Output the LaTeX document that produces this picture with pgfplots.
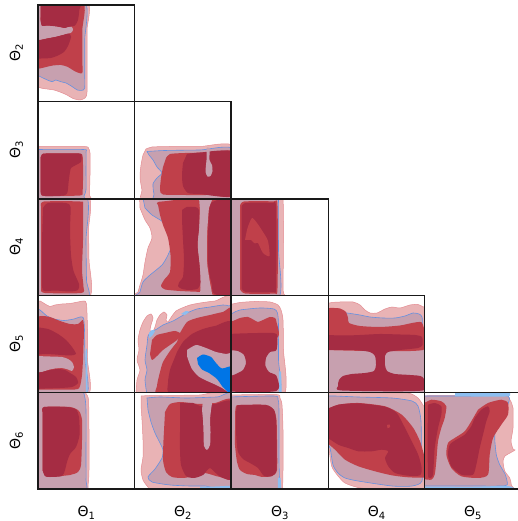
\documentclass[border=0pt]{standalone}
\usepackage{pgfplots}
\pgfplotsset{compat=1.18}
\usepackage{fontspec}
\setmainfont{DejaVu Sans}
\definecolor{pinkF}{RGB}{233,179,181}
\definecolor{pinkE}{RGB}{228,140,146}
\definecolor{mauve}{RGB}{199,160,175}
\definecolor{medR}{RGB}{192,64,74}
\definecolor{darkR}{RGB}{165,44,67}
\definecolor{blueF}{RGB}{0,117,230}
\definecolor{lightB}{RGB}{140,190,240}
\definecolor{blueL}{RGB}{100,145,225}
\pgfplotsset{
 panel/.style={scale only axis, anchor=south west, y dir=reverse, xtick=\empty, ytick=\empty,
   axis on top, axis line style={line width=1.25pt,black!90}},
 cP/.style={fill=pinkF, draw=pinkE, line width=0.5pt, smooth, tension=0.4, mark=none},
 cM/.style={fill=mauve, draw=blueL, line width=0.6pt, smooth, tension=0.4, mark=none},
 cR/.style={fill=medR, draw=none, smooth, tension=0.4, mark=none},
 cD/.style={fill=darkR, draw=none, smooth, tension=0.4, mark=none},
 cN/.style={fill=mauve, draw=none, smooth, tension=0.4, mark=none},
 cB/.style={fill=blueF, draw=none, smooth, tension=0.4, mark=none},
 cLB/.style={fill=lightB, draw=none, smooth, tension=0.4, mark=none},
}
\newcommand{\lab}[1]{\fontsize{14}{16}\selectfont Θ\raisebox{-0.2em}{\fontsize{10}{10}\selectfont #1}}
\begin{document}
\begin{tikzpicture}
\useasboundingbox (0,0) rectangle (518pt,521pt);
% ---------- row 1 (Theta2) ----------
\begin{axis}[panel, at={(38pt,419.5pt)}, width=96.5pt, height=96.5pt, xmin=38, xmax=134.5, ymin=5, ymax=101.5]
\addplot[cP] coordinates {(35,2) (87,2) (87,30) (87,60) (87,92) (85,98) (80,100) (73,98.5) (67,95) (60,92) (54,90) (47,89) (42,88.3) (35,86)} --cycle;
\addplot[cM] coordinates {(35,2) (84.7,2) (84.7,40) (84.7,70) (84.7,88) (82,90.3) (77.3,90) (72,86.5) (66,83) (60.7,81.7) (55.7,80) (52.3,81.7) (47.3,80) (42,77.5) (35,74)} --cycle;
\addplot[cR] coordinates {(35,2) (82.5,2) (82.3,30) (82.3,60) (82.3,73) (75.7,71.7) (67.3,66.7) (60.7,65) (53,65.5) (47.3,66.7) (40.7,68.3) (35,69)} --cycle;
\addplot[cN] coordinates {(35,2) (40.5,2) (40.5,20) (42,26) (47,25.5) (57,26.5) (65,28) (68,27) (71,26.5) (73,29) (72,32) (69,33.5) (63,35) (55,37) (47,38.5) (40,40) (35,40)} --cycle;
\addplot[cD] coordinates {(40.5,2) (79,2) (79.3,10) (78,20) (75,25.5) (71,26.5) (68,27) (65,28) (57,26.5) (47,25.5) (42,26) (40.5,20)} --cycle;
\addplot[cD] coordinates {(35,40) (40,40) (47,38.5) (55,37) (63,35) (69,33.5) (71,37) (68,46) (64,52) (58,55.5) (50.7,58) (42,58.5) (35,58.5)} --cycle;
\end{axis}
% ---------- row 2 (Theta3) ----------
\begin{axis}[panel, at={(38pt,322pt)}, width=96.5pt, height=97.5pt, xmin=38, xmax=134.5, ymin=101.5, ymax=199]
\addplot[cP] coordinates {(35,146.5) (84,146.5) (88.5,148.5) (90,153) (90,175) (89.5,195) (90,202) (35,202)} --cycle;
\addplot[cM] coordinates {(35,149.5) (83,149.5) (86,152) (86,170) (86,190) (84,196) (82,202) (35,202)} --cycle;
\addplot[cR] coordinates {(40.5,158) (42,154.5) (46,153.5) (79,153.5) (82.5,156) (83,165) (83,180) (82.5,192) (80,195.5) (45,196) (41,194) (40.5,185)} --cycle;
\addplot[cD] coordinates {(40.5,158) (42,154.5) (46,153.5) (79,153.5) (81.5,156) (81,162) (76,165) (71,168) (69.5,175) (68.5,183) (67.5,192) (64,195.5) (45,196) (41,194) (40.5,185)} --cycle;
\end{axis}
\begin{axis}[panel, at={(134.5pt,322pt)}, width=96.5pt, height=97.5pt, xmin=134.5, xmax=231, ymin=101.5, ymax=199]
\addplot[cP] coordinates {(146,149) (152,147) (170,146.5) (200,146.5) (234,146.5) (234,202) (146,202) (142,190) (140,177) (141,165) (143,155)} --cycle;
\addplot[cM] coordinates {(147,151.5) (165,150.5) (200,150) (234,149.5) (234,202) (158,202) (154,194) (153,184) (157,178) (162,173) (157,167) (153,160) (149,155)} --cycle;
\addplot[cR] coordinates {(166,158) (170,154) (185,153) (215,152.5) (234,152.5) (234,195) (210,195) (185,195) (163,194.5) (160,190) (161,178) (163,167)} --cycle;
\addplot[cD] coordinates {(187,154) (200,152.5) (234,152.5) (234,195) (200,194) (188,193) (183,186) (182,175) (183,163)} --cycle;
\addplot[cN] coordinates {(206.5,148) (209.5,148) (209.5,160) (212,165) (212.5,171) (210.5,176) (207.5,176.5) (205.5,172) (206,165) (206.5,160)} --cycle;
\end{axis}
% ---------- row 3 (Theta4) ----------
\begin{axis}[panel, at={(38pt,225.5pt)}, width=96.5pt, height=96.5pt, xmin=38, xmax=134.5, ymin=199, ymax=295.5]
\addplot[cP] coordinates {(35,196) (88,196) (88.5,230) (89,260) (89,298) (35,298)} --cycle;
\addplot[cM] coordinates {(35,196) (86,196) (86,240) (86.5,280) (87,298) (35,298)} --cycle;
\addplot[cR] coordinates {(41,206) (44,201.5) (80,201.5) (83,205) (83,240) (82,270) (83.5,287) (81.5,293) (45,293) (41,290)} --cycle;
\addplot[cD] coordinates {(43,208) (48,203) (66,203) (70.5,207) (70,230) (71,255) (73.5,271) (79,284) (78,290) (70,291.5) (55,290.5) (45,291) (42,286) (42,240)} --cycle;
\end{axis}
\begin{axis}[panel, at={(134.5pt,225.5pt)}, width=96.5pt, height=96.5pt, xmin=134.5, xmax=231, ymin=199, ymax=295.5]
\addplot[cP] coordinates {(139.5,196) (234,196) (234,298) (136,298) (138,292) (140,285) (143,275) (145,262) (148,248) (152,238) (150,228) (145,220) (140,208)} --cycle;
\addplot[cM] coordinates {(142.5,196) (234,196) (234,298) (139,298) (140,292) (143,282) (150,275) (162,265) (168,255) (173,242) (170,232) (163,222) (152,215) (145,208)} --cycle;
\addplot[cR] coordinates {(158,205) (162,201.5) (234,201.5) (234,293) (203,292) (180,291) (165,289.5) (161,286) (164,280) (170,272) (170.5,255) (168,238) (163,225) (160,215)} --cycle;
\addplot[cN] coordinates {(199,198) (212,198) (209,208) (208,220) (207,235) (207,262) (209.5,280) (212,298) (200,298) (200.5,288) (199.5,265) (197.5,245) (199,228) (200,210)} --cycle;
\addplot[cD] coordinates {(182,210) (187,207) (195,207) (199,210) (199,228) (197.5,245) (199.5,265) (200.5,282) (198,288.5) (190,290) (182,289) (178,286) (180,281) (183,277) (184,260) (183,240) (182,220)} --cycle;
\addplot[cD] coordinates {(211,203) (216,200.5) (234,200.5) (234,293.5) (214,293.5) (212,285) (209.5,275) (208,262) (208,240) (208.5,220) (209.5,208)} --cycle;
\end{axis}
\begin{axis}[panel, at={(231pt,225.5pt)}, width=97.3pt, height=96.5pt, xmin=231, xmax=328.3, ymin=199, ymax=295.5]
\addplot[cP] coordinates {(228,196) (278,196) (283,200) (283.5,240) (283,290) (283,298) (228,298)} --cycle;
\addplot[cM] coordinates {(228,196) (275,196) (278.5,201) (278.5,250) (278.5,298) (228,298)} --cycle;
\addplot[cR] coordinates {(240,206) (244,201.5) (273,201.5) (277.5,206) (277.5,288) (273.5,293.5) (245,293.5) (240,289)} --cycle;
\addplot[cD] coordinates {(241.5,207) (245.5,203) (271.5,203) (276,207.5) (276,287) (272.5,292) (246,292) (241.5,288)} --cycle;
\addplot[cR] coordinates {(245,240) (247.5,228) (252,218) (257,223) (263,232) (268,241) (269.5,256) (263,253) (258,243) (255,243.5) (251,240)} --cycle;
\end{axis}
% ---------- row 4 (Theta5) ----------
\begin{axis}[panel, at={(38pt,128.5pt)}, width=96.5pt, height=97pt, xmin=38, xmax=134.5, ymin=295.5, ymax=392.5]
\addplot[cP] coordinates {(35,302) (40,301) (45,304) (50,306.5) (55,305) (62,304) (70,303.5) (78,302) (84,301) (86.5,304) (87.5,330) (87.5,360) (88,395) (35,395)} --cycle;
\addplot[cM] coordinates {(35,308) (40,310) (47,316) (54,319) (64,320.5) (74,319) (80,317) (83.5,318) (84.5,330) (85,360) (86,395) (35,395)} --cycle;
\addplot[cLB] coordinates {(85.3,352) (87,350) (87.5,395) (86,395)} --cycle;
\addplot[cR] coordinates {(35,317) (42,316) (50,317) (60,321) (70,324) (78,324) (83,320) (84,330) (83.5,345) (83,360) (82,375) (80,386) (75,389.5) (35,389.5)} --cycle;
\addplot[cD] coordinates {(35,327) (48,329) (58,334) (66,340) (72,347) (76,354) (70,355.5) (55,354.5) (45,354) (35,355)} --cycle;
\addplot[cN] coordinates {(35,356) (50,356.5) (62,357) (68,359) (72,362) (74,367) (72,371) (68,369.5) (62,368) (55,368.5) (48,370) (42,372) (35,373)} --cycle;
\addplot[cD] coordinates {(35,373) (42,372) (50,370) (58,369) (65,370) (70,373) (76,377) (78,383) (72,387) (60,388) (45,388.5) (35,389)} --cycle;
\end{axis}
\begin{axis}[panel, at={(134.5pt,128.5pt)}, width=96.5pt, height=97pt, xmin=134.5, xmax=231, ymin=295.5, ymax=392.5]
\addplot[cP] coordinates {(136,395) (137,380) (140,370) (137,360) (139,350) (138,340) (140,330) (143,322) (147,316) (151,314) (153,318) (151,325) (150,330) (152,333) (155,327) (157,320) (160,315) (164,312) (167,315) (166,320) (168,322) (172,316) (176,311) (182,308) (190,305) (200,303) (215,301) (234,300) (234,395)} --cycle;
\addplot[cM] coordinates {(147,395) (145,380) (147,370) (145,360) (147,345) (148,336) (151,332) (157,329) (163,325) (173,321) (180,317) (187,313) (197,309) (210,307) (223,305) (229,306) (234,310) (234,395)} --cycle;
\addplot[cLB] coordinates {(149,333) (152,330) (155,331) (152,336) (149,338)} --cycle;
\addplot[cLB] coordinates {(181,314) (186,311) (189,312) (185,315)} --cycle;
\addplot[cR] coordinates {(180,333) (187,322) (197,318) (210,315) (223,312) (234,311) (234,395) (160,395) (157,386) (160,372) (163,362) (170,351) (177,342)} --cycle;
\addplot[cR] coordinates {(152,340) (157,335) (165,333) (175,331) (181,334) (177,340) (170,345) (163,350) (157,356) (152,360) (150,354)} --cycle;
\addplot[cD] coordinates {(177,352) (183,342) (192,334) (203,329) (215,326) (234,324) (234,395) (172,395) (168,383) (170,370) (173,362)} --cycle;
\addplot[cN] coordinates {(187,350) (196,345) (206,348) (216,352) (226,354) (234,355) (234,395) (228,392) (222,388) (214,384) (205,380) (198,376) (192,369) (189,362) (187,356)} --cycle;
\addplot[cB] coordinates {(197,358) (203,354.5) (211,357) (216,363) (222,368.5) (234,367) (234,395) (228,392) (222,386) (217,379) (209,373) (202,369.5) (198,364)} --cycle;
\end{axis}
\begin{axis}[panel, at={(231pt,128.5pt)}, width=97.3pt, height=97pt, xmin=231, xmax=328.3, ymin=295.5, ymax=392.5]
\addplot[cP] coordinates {(228,305) (240,302.5) (255,301.5) (270,302) (278,305) (281,310) (283,320) (283.5,350) (283.5,395) (228,395)} --cycle;
\addplot[cM] coordinates {(228,316) (233,313) (240,310) (260,308) (274,309) (277.5,313) (278.5,325) (278.5,360) (278.5,395) (228,395)} --cycle;
\addplot[cLB] coordinates {(278.8,372) (281,372) (281.5,395) (278.8,395)} --cycle;
\addplot[cR] coordinates {(228,322) (233,321) (240,318) (248,317) (254,320) (258,322) (263,320) (270,317) (275,318) (276.5,322) (276.5,338) (228,338)} --cycle;
\addplot[cD] coordinates {(228,334) (240,333.5) (260,333) (276.5,334) (276.5,350) (270,352) (266,358) (265.5,366) (269,372) (276.5,376) (276.5,391) (228,391) (228,378) (236,374) (243,370) (246,363) (244,355) (238,351) (228,350)} --cycle;
\end{axis}
\begin{axis}[panel, at={(328.3pt,128.5pt)}, width=96.4pt, height=97pt, xmin=328.3, xmax=424.7, ymin=295.5, ymax=392.5]
\addplot[cP] coordinates {(325,304) (332,302.5) (340,302) (353,302) (360,305) (365,310) (370,313) (377,313) (385,309) (392,307) (400,308) (410,305) (418,304.5) (423,307) (427,312) (427,395) (325,395)} --cycle;
\addplot[cM] coordinates {(325,318) (330,314) (335,312) (347,313) (360,315) (370,317) (383,318) (395,318) (405,316) (413,313) (419,314) (422,317) (422.5,330) (422.5,395) (325,395)} --cycle;
\addplot[cR] coordinates {(325,310) (330,308) (340,308.5) (346,312) (348,318) (349,323) (360,326) (380,327) (400,325.5) (412,323) (420,322) (423,325) (423,350) (325,350)} --cycle;
\addplot[cD] coordinates {(325,335) (345,335.5) (360,335) (380,334) (400,334.5) (415,335) (422,337) (422.5,345) (418,348) (400,350) (388,352) (385,356) (385,365) (387,371) (395,374) (410,375) (422.5,377) (422.5,390.5) (342,390.5) (338,386) (339,380) (343,376) (352,374) (365,373) (374,371) (376,365) (375,356) (370,352) (355,350) (335,350) (325,350)} --cycle;
\end{axis}
% ---------- row 5 (Theta6) ----------
\begin{axis}[panel, at={(38pt,32pt)}, width=96.5pt, height=96.5pt, xmin=38, xmax=134.5, ymin=392.5, ymax=489]
\addplot[cP] coordinates {(35,390) (82,390) (86,393.5) (88.5,400) (89,430) (89,470) (88,485) (84,492) (35,492)} --cycle;
\addplot[cM] coordinates {(35,392) (80,392) (84.5,396) (86,410) (86,460) (86,480) (84,492) (35,492)} --cycle;
\addplot[cR] coordinates {(42.5,412) (44,407) (70,407) (79,411) (82,420) (82,440) (81,465) (78,472) (70,475) (50,477) (45,476) (42.5,470)} --cycle;
\addplot[cD] coordinates {(42.5,412) (44,407) (67,407) (76,409.5) (79,417) (79.5,435) (76,447) (70,454) (67,462) (65,470) (62,476) (50,477) (45,476) (42.5,470)} --cycle;
\end{axis}
\begin{axis}[panel, at={(134.5pt,32pt)}, width=96.5pt, height=96.5pt, xmin=134.5, xmax=231, ymin=392.5, ymax=489]
\addplot[cP] coordinates {(141,396) (150,395.5) (170,395.5) (200,395) (234,395) (234,492) (155,492) (148,487) (143,480) (141,470) (143,457) (143,440) (142,420) (141,405)} --cycle;
\addplot[cM] coordinates {(147,398) (160,397) (187,398) (217,397) (234,397) (234,486) (205,486) (190,486) (170,485) (152,482) (148,477) (155,469) (162,458) (163,450) (160,443) (155,433) (151,422) (148,410)} --cycle;
\addplot[cLB] coordinates {(200,486.8) (215,486.5) (234,486) (234,492) (200,492)} --cycle;
\addplot[cR] coordinates {(165,412) (170,404) (180,402) (190,403) (200,404) (215,403) (234,402) (234,476) (220,477) (205,473) (195,476) (183,478) (172,477) (166,472) (163,460) (163.5,440)} --cycle;
\addplot[cD] coordinates {(180,403) (193,403) (200,406) (215,404) (234,404) (234,476) (220,476.5) (210,468) (203,475) (194,478) (186,476) (181,465) (180,450) (180,430) (180,415)} --cycle;
\addplot[cN] coordinates {(203,399) (212,399) (211,410) (210,420) (210.5,432) (210,445) (207,450) (204,446) (203.5,432) (203,420) (202,410)} --cycle;
\end{axis}
\begin{axis}[panel, at={(231pt,32pt)}, width=97.3pt, height=96.5pt, xmin=231, xmax=328.3, ymin=392.5, ymax=489]
\addplot[cP] coordinates {(228,395) (276,394.5) (280,398) (282,405) (283,430) (283,470) (282.5,485) (279,492) (228,492)} --cycle;
\addplot[cM] coordinates {(228,397) (274,396) (278,399) (279,410) (279,460) (279.5,484) (277,492) (228,492)} --cycle;
\addplot[cLB] coordinates {(277.8,478) (280.5,478) (281,490) (277.8,490)} --cycle;
\addplot[cR] coordinates {(235,414) (236,406) (240,405) (266,405) (274,410) (276.5,420) (277,440) (277,470) (272,476) (262,477) (255,475) (247,474) (240,470) (237,462) (235,445) (235,430)} --cycle;
\addplot[cD] coordinates {(236,414) (237,406) (241,405) (266,405) (274,410) (276,420) (276.5,440) (276.5,470) (272,476) (264,476) (258,468) (250,463) (243,459) (238,452) (236.5,440) (236,430)} --cycle;
\end{axis}
\begin{axis}[panel, at={(328.3pt,32pt)}, width=96.4pt, height=96.5pt, xmin=328.3, xmax=424.7, ymin=392.5, ymax=489]
\addplot[cP] coordinates {(325,392) (345,392.5) (380,393) (408,393) (418,398) (423.5,406) (427,412) (427,492) (380,490) (358,487.5) (345,483) (338.3,476.3) (331.7,466.3) (328.3,445) (325,435)} --cycle;
\addplot[cM] coordinates {(325,396) (335,396) (358,397) (392,398) (412,401) (418,406) (421,421) (421.5,455) (422,481) (412,486) (392,486) (358,481) (345,478) (338,473) (333,465) (330,448) (325,440)} --cycle;
\addplot[cR] coordinates {(325,410) (338.3,404.7) (358.3,403) (385,406.3) (401.7,414.7) (413.3,428) (420,441.3) (424,454.7) (427,465) (427,477) (408.3,477.3) (391.7,475.3) (375,471.3) (358.3,466.3) (345,459.7) (335,449.7) (325,441)} --cycle;
\addplot[cD] coordinates {(325,410) (338.3,404.7) (358.3,403.3) (385,406.7) (396.7,413) (405,428) (411.7,441.3) (418.3,455) (421.7,468) (420,475.3) (408,475.7) (395,473) (388.3,466.3) (385,458) (388.3,451.3) (381.7,449.7) (371.7,451.3) (358.3,451.3) (348.3,448) (338.3,444.7) (325,436)} --cycle;
\addplot[cR] coordinates {(387,425) (389.5,424.5) (390.2,427) (387.5,428.2)} --cycle;
\end{axis}
\begin{axis}[panel, at={(424.7pt,32pt)}, width=96.3pt, height=96.5pt, xmin=424.7, xmax=521, ymin=392.5, ymax=489]
\addplot[cP] coordinates {(422,397) (430,395.5) (470,395.5) (505,396) (510,400) (513,408) (513,428) (511,441) (513,449) (515,450) (510,453) (505,456) (503,461) (504.7,471) (509.7,478) (511.3,485) (510,492) (422,492)} --cycle;
\addplot[cM] coordinates {(422,396) (470,396) (508,396) (506.3,408) (501.3,418) (496.3,424.7) (494.7,438) (496.3,454.7) (499.7,464.7) (505.3,474.7) (507.3,484.7) (500,486) (470,486) (422,486)} --cycle;
\addplot[cLB] coordinates {(455,392) (470,392) (507,392) (510,395.5) (505,396.5) (470,396.5) (455,396.5)} --cycle;
\addplot[cLB] coordinates {(425,486.5) (470,486.8) (508,486) (510,490) (425,490)} --cycle;
\addplot[cR] coordinates {(423,403) (426.3,402) (431.3,399.7) (441.3,401.3) (446.3,406.3) (444.7,418) (441.3,428) (438,441.3) (436.3,461.3) (434.7,474.7) (431.3,479.7) (423,479)} --cycle;
\addplot[cD] coordinates {(428,404.7) (434.7,403) (441.3,406.3) (441.3,414.7) (438,428) (434.7,448) (433,474.7) (429.7,478) (428,474.7) (427.5,440)} --cycle;
\addplot[cR] coordinates {(478,409.7) (488,403) (501.3,399.7) (508,403) (508,414.7) (501.3,424.7) (493,438) (489.7,454.7) (488,474.7) (478,478) (461.3,476.3) (451.3,468) (446.3,454.7) (448,443) (454.7,438) (464.7,431.3) (471.3,421.3)} --cycle;
\addplot[cD] coordinates {(474.7,418) (481.3,409.7) (488,406.3) (489.7,411.3) (486.3,421.3) (483,434.7) (479.7,448) (476.3,464.7) (473,474.7) (461.3,474.7) (451.3,466.3) (448,454.7) (449.7,444.7) (456.3,439.7) (464.7,434.7) (471.3,426.3)} --cycle;
\end{axis}
% ---------- labels ----------
\node[anchor=base] at (86.3pt,4.5pt) {\lab{1}};
\node[anchor=base] at (182.8pt,4.5pt) {\lab{2}};
\node[anchor=base] at (279.7pt,4.5pt) {\lab{3}};
\node[anchor=base] at (376.5pt,4.5pt) {\lab{4}};
\node[anchor=base] at (472.9pt,4.5pt) {\lab{5}};
\node[anchor=base, rotate=90] at (20pt,467.7pt) {\lab{2}};
\node[anchor=base, rotate=90] at (20pt,370.7pt) {\lab{3}};
\node[anchor=base, rotate=90] at (20pt,273.7pt) {\lab{4}};
\node[anchor=base, rotate=90] at (20pt,177pt) {\lab{5}};
\node[anchor=base, rotate=90] at (20pt,80.2pt) {\lab{6}};
\end{tikzpicture}
\end{document}
